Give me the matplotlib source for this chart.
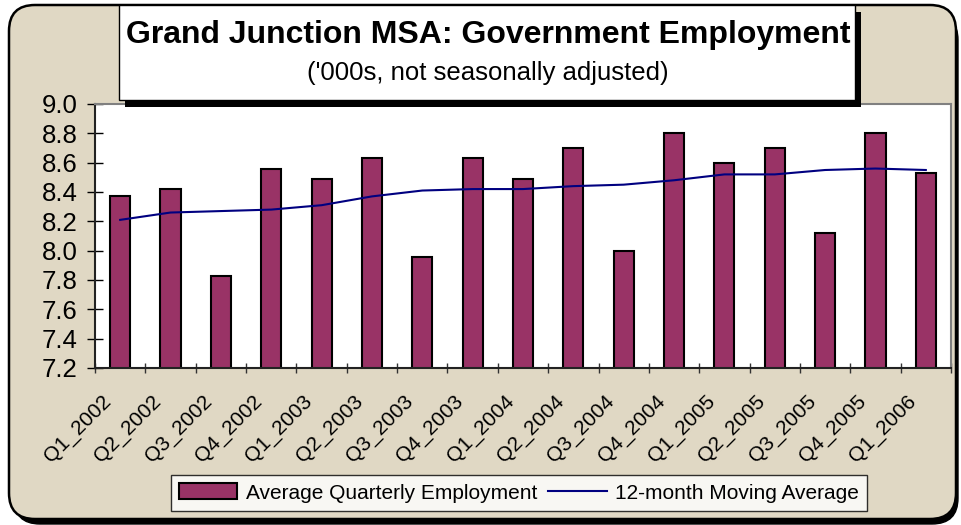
import matplotlib
matplotlib.use("Agg")
import matplotlib.pyplot as plt
from matplotlib.patches import FancyBboxPatch, Rectangle, Patch
from matplotlib.lines import Line2D
from matplotlib.transforms import IdentityTransform, ScaledTranslation

categories = ["Q1_2002", "Q2_2002", "Q3_2002", "Q4_2002",
              "Q1_2003", "Q2_2003", "Q3_2003", "Q4_2003",
              "Q1_2004", "Q2_2004", "Q3_2004", "Q4_2004",
              "Q1_2005", "Q2_2005", "Q3_2005", "Q4_2005",
              "Q1_2006"]
quarterly = [8.37, 8.42, 7.83, 8.56, 8.49, 8.63, 7.96, 8.63,
             8.49, 8.70, 8.00, 8.80, 8.60, 8.70, 8.12, 8.80, 8.53]
moving_avg = [8.21, 8.26, 8.27, 8.28, 8.31, 8.37, 8.41, 8.42,
              8.42, 8.44, 8.45, 8.48, 8.52, 8.52, 8.55, 8.56, 8.55]
yticks = [7.2, 7.4, 7.6, 7.8, 8.0, 8.2, 8.4, 8.6, 8.8, 9.0]

title = "Grand Junction MSA: Government Employment"
subtitle = "('000s, not seasonally adjusted)"
bar_label = "Average Quarterly Employment"
line_label = "12-month Moving Average"

W, H = 962, 525
plt.rcParams['font.family'] = ['Liberation Sans', 'DejaVu Sans']
fig = plt.figure(figsize=(W / 100, H / 100), dpi=100, facecolor="white")

bg = "#E0D8C4"
# outer rounded frame with shadow
shadow = FancyBboxPatch((14, H - 524), 944, 510,
                        boxstyle="round,pad=0,rounding_size=26",
                        transform=IdentityTransform(), facecolor="black",
                        edgecolor="black", zorder=0)
fig.patches.append(shadow)
frame = FancyBboxPatch((9, H - 519), 947, 514,
                       boxstyle="round,pad=0,rounding_size=26",
                       transform=IdentityTransform(), facecolor=bg,
                       edgecolor="black", linewidth=1.8, zorder=1)
fig.patches.append(frame)

# axes
left, right, top, bottom = 95, 951, 104, 368
ax = fig.add_axes([left / W, (H - bottom) / H, (right - left) / W, (bottom - top) / H])
ax.set_facecolor("white")
ax.set_zorder(2)

x = list(range(len(categories)))
ax.bar(x, quarterly, width=0.4, color="#993366", edgecolor="black",
       linewidth=1.5, zorder=2, label=bar_label)
ax.plot(x, moving_avg, color="#000080", linewidth=1.5, zorder=3, label=line_label)

ax.set_xlim(-0.5, len(categories) - 0.5)
ax.set_ylim(7.2, 9.0)
ax.set_yticks(yticks)
ax.set_yticklabels([f"{v:.1f}" for v in yticks])
ax.tick_params(axis="y", direction="inout", length=11.5, width=1, labelsize=18.5,
               pad=7, colors="black")
ax.set_xticks(x)
ax.set_xticklabels(categories, rotation=45, ha="right", rotation_mode="anchor")
ax.tick_params(axis="x", which="major", length=0, labelsize=15, pad=17)
ax.set_xticks([i - 0.5 for i in range(len(categories) + 1)], minor=True)
ax.tick_params(axis="x", which="minor", direction="inout", length=7, width=1,
               color="#333333")
shift = ScaledTranslation(-19 / 100, 0, fig.dpi_scale_trans)
for lbl in ax.get_xticklabels():
    lbl.set_transform(lbl.get_transform() + shift)
for s in ["top", "right"]:
    ax.spines[s].set_color("#808080")
    ax.spines[s].set_linewidth(1.5)
for s in ["left", "bottom"]:
    ax.spines[s].set_color("#222222")
    ax.spines[s].set_linewidth(1.5)

# title box with shadow
tb_sh = Rectangle((125, H - 107), 736, 95, transform=IdentityTransform(),
                  facecolor="black", edgecolor="none", zorder=3)
tb = Rectangle((119, H - 100), 736, 95, transform=IdentityTransform(),
               facecolor="white", edgecolor="black", linewidth=1, zorder=4)
fig.patches.append(tb_sh)
fig.patches.append(tb)
fig.text(488 / W, 1 - 35 / H, title, ha="center", va="center",
         fontsize=23, fontweight="bold", zorder=5)
fig.text(488 / W, 1 - 73 / H, subtitle, ha="center", va="center",
         fontsize=18.5, zorder=5)

# legend
handles = [Patch(facecolor="#993366", edgecolor="black", linewidth=1.5),
           Line2D([0], [0], color="#000080", linewidth=1.5)]
leg = fig.legend(handles, [bar_label, line_label], loc="center",
                 bbox_to_anchor=(519 / W, 1 - 493 / H), ncol=2,
                 fontsize=15, frameon=True, fancybox=False, shadow=False,
                 handlelength=2.8, handleheight=0.8, handletextpad=0.4,
                 columnspacing=0.55, borderpad=0.4, edgecolor="black")
leg.get_frame().set_linewidth(1)
leg.set_zorder(6)

fig.savefig("out.png", dpi=100, facecolor="white")
